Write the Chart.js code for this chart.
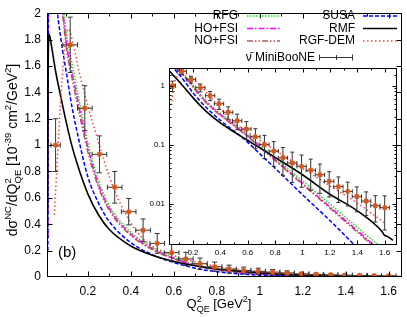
<!DOCTYPE html>
<html>
<head>
<meta charset="utf-8">
<script src="https://cdn.jsdelivr.net/npm/chart.js@4.4.1/dist/chart.umd.min.js"></script>
<style>
  html, body { margin: 0; padding: 0; background: #fff; }
  #wrap { position: relative; width: 407px; height: 317px; }
  #wrap canvas { position: absolute; left: 0; top: 0; }
</style>
</head>
<body>
<div id="wrap">
  <canvas id="main" width="407" height="317"></canvas>
  <canvas id="inset" width="407" height="317"></canvas>
</div>
<script>
// ---- values ----
// model curves share one Q2 grid (GeV^2); values in 10^-39 cm^2/GeV^2
const modelQ = [0.014, 0.017, 0.02, 0.03, 0.05, 0.075, 0.1, 0.125, 0.15, 0.2, 0.25, 0.3, 0.4, 0.5, 0.6, 0.7, 0.8, 1.0, 1.2, 1.4, 1.6, 1.66];
const rfgVal  = [0.3, 2.6, 3.2, 3.5, 3.1, 2.3, 1.85, 1.63, 1.42, 1.02, 0.73, 0.54, 0.34, 0.225, 0.15, 0.095, 0.060, 0.0245, 0.0099, 0.0040, 0.0016, 0.0012];
const hoVal   = [0.3, 2.5, 3.1, 3.4, 3.0, 2.2, 1.78, 1.56, 1.36, 0.98, 0.70, 0.52, 0.325, 0.215, 0.142, 0.089, 0.056, 0.0222, 0.0088, 0.0035, 0.0014, 0.0011];
const noVal   = [0.3, 2.4, 3.0, 3.3, 2.9, 2.15, 1.74, 1.52, 1.32, 0.95, 0.68, 0.505, 0.315, 0.208, 0.137, 0.086, 0.054, 0.0213, 0.0084, 0.0033, 0.0013, 0.0010];
const susaVal = [0.2, 2.4, 2.8, 2.7, 2.15, 1.8, 1.55, 1.3, 1.1, 0.76, 0.56, 0.42, 0.26, 0.17, 0.11, 0.066, 0.040, 0.0142, 0.0052, 0.0018, 0.00065, 0.0005];

const rmfQ   = [0.012, 0.015, 0.018, 0.02, 0.03, 0.05, 0.075, 0.1, 0.125, 0.15, 0.2, 0.25, 0.3, 0.4, 0.5, 0.6, 0.7, 0.8, 1.0, 1.2, 1.4, 1.58, 1.6, 1.62, 1.66];
const rmfVal = [0.5, 1.5, 1.82, 1.84, 1.76, 1.56, 1.36, 1.17, 1.0, 0.86, 0.63, 0.47, 0.36, 0.235, 0.165, 0.118, 0.085, 0.061, 0.031, 0.0145, 0.0076, 0.0034, 0.0029, 0.0028, 0.0024];

const rgfQ   = [0.044, 0.055, 0.065, 0.08, 0.095, 0.11, 0.13, 0.16, 0.2, 0.25, 0.3, 0.35, 0.4, 0.45, 0.5, 0.6, 0.7, 0.8, 1.0, 1.2, 1.4, 1.6];
const rgfVal = [0.47, 0.8, 1.1, 1.5, 1.78, 1.88, 1.78, 1.55, 1.3, 1.02, 0.76, 0.56, 0.41, 0.30, 0.235, 0.163, 0.115, 0.081, 0.040, 0.020, 0.0103, 0.0047];

// MiniBooNE antineutrino points
const dataQ    = [0.05, 0.118, 0.186, 0.254, 0.325, 0.39, 0.457, 0.523, 0.59, 0.656, 0.722, 0.79, 0.857, 0.925, 0.993, 1.06, 1.127, 1.195, 1.262, 1.33, 1.397, 1.465, 1.532, 1.6];
const dataVal  = [1.0, 1.76, 1.28, 0.93, 0.68, 0.495, 0.355, 0.255, 0.185, 0.137, 0.101, 0.078, 0.060, 0.049, 0.043, 0.037, 0.031, 0.024, 0.0195, 0.0162, 0.0133, 0.0111, 0.0093, 0.0086];
const dataErr  = [0.2, 0.21, 0.17, 0.14, 0.12, 0.10, 0.085, 0.075, 0.062, 0.05, 0.043, 0.035, 0.030, 0.026, 0.024, 0.020, 0.016, 0.011, 0.009, 0.007, 0.006, 0.0048, 0.0044, 0.005];
const dataQErr = [0.022, 0.034, 0.034, 0.034, 0.034, 0.034, 0.034, 0.034, 0.034, 0.034, 0.034, 0.034, 0.034, 0.034, 0.034, 0.034, 0.034, 0.034, 0.034, 0.034, 0.034, 0.034, 0.034, 0.034];

const FONT = "'Liberation Sans', Arial, sans-serif";
Chart.defaults.font.family = FONT;
Chart.defaults.color = '#000';

// line styles per model (legend uses the same)
const styles = {
  RFG:       { color: '#22dd22', dash: [1.5, 1.5] },
  'HO+FSI':  { color: '#ff00ff', dash: [6, 2, 1.5, 2] },
  'NO+FSI':  { color: '#b05858', dash: [6, 2, 1.5, 2, 1.5, 2] },
  SUSA:      { color: '#0000ff', dash: [4, 2] },
  RMF:       { color: '#000000', dash: [] },
  'RGF-DEM': { color: '#ff4444', dash: [1.5, 2.5] }
};

const pts = (qs, vs) => qs.map((q, i) => ({ x: q, y: vs[i] }));

function curve(label, qs, vs, order) {
  const s = styles[label];
  return {
    label, order,
    data: pts(qs, vs),
    borderColor: s.color,
    borderDash: s.dash,
    borderWidth: label === 'RMF' ? 1.6 : 1.5,
    pointRadius: 0,
    fill: false,
    cubicInterpolationMode: 'monotone'
  };
}

function makeDatasets() {
  return [
    {
      label: 'MiniBooNE', order: 0,
      data: pts(dataQ, dataVal),
      showLine: false,
      pointStyle: 'star',
      pointRadius: 2.8,
      borderColor: '#d4561c',
      backgroundColor: '#d4561c',
      pointBorderWidth: 1.4
    },
    curve('RGF-DEM', rgfQ, rgfVal, 1),
    curve('RMF', rmfQ, rmfVal, 2),
    curve('SUSA', modelQ, susaVal, 3),
    curve('NO+FSI', modelQ, noVal, 4),
    curve('HO+FSI', modelQ, hoVal, 5),
    curve('RFG', modelQ, rfgVal, 6)
  ];
}

// error bars, drawn just before the data markers (above the curves)
const errorBars = {
  id: 'errorBars',
  beforeDatasetDraw(chart, args) {
    if (args.index !== 0) return;
    const { ctx, chartArea: a, scales: { x, y } } = chart;
    const cap = chart.canvas.id === 'inset' ? 2 : 2.5;
    ctx.save();
    ctx.beginPath();
    ctx.rect(a.left, a.top, a.right - a.left, a.bottom - a.top);
    ctx.clip();
    ctx.strokeStyle = '#333';
    ctx.lineWidth = 1;
    dataQ.forEach((q, i) => {
      const px = x.getPixelForValue(q), py = y.getPixelForValue(dataVal[i]);
      const x0 = x.getPixelForValue(q - dataQErr[i]), x1 = x.getPixelForValue(q + dataQErr[i]);
      const y0 = y.getPixelForValue(dataVal[i] - dataErr[i]), y1 = y.getPixelForValue(dataVal[i] + dataErr[i]);
      ctx.beginPath();
      ctx.moveTo(x0, py); ctx.lineTo(x1, py);
      ctx.moveTo(x0, py - cap); ctx.lineTo(x0, py + cap);
      ctx.moveTo(x1, py - cap); ctx.lineTo(x1, py + cap);
      ctx.moveTo(px, y0); ctx.lineTo(px, y1);
      ctx.moveTo(px - cap, y0); ctx.lineTo(px + cap, y0);
      ctx.moveTo(px - cap, y1); ctx.lineTo(px + cap, y1);
      ctx.stroke();
    });
    ctx.restore();
  }
};

// gnuplot style box with inward ticks on all four sides
const frameTicks = {
  id: 'frameTicks',
  afterDraw(chart, args, opts) {
    const { ctx, chartArea: a, scales: { x, y } } = chart;
    const L = Math.round(a.left) + 0.5, R = Math.round(a.right) - 0.5;
    const T = Math.round(a.top) + 0.5, B = Math.round(a.bottom) - 0.5;
    ctx.save();
    ctx.strokeStyle = '#000';
    ctx.lineWidth = 1;
    ctx.strokeRect(L, T, R - L, B - T);
    ctx.beginPath();
    const xv = x.ticks.map(t => t.value);
    const xmarks = xv.map(v => [v, opts.major]);
    const step = xv[1] - xv[0];
    [xv[0] - step / 2, ...xv.map(v => v + step / 2)].forEach(v => {
      if (v > x.min && v < x.max) xmarks.push([v, opts.minor]);
    });
    xmarks.forEach(([v, len]) => {
      const p = Math.round(x.getPixelForValue(v)) + 0.5;
      ctx.moveTo(p, B); ctx.lineTo(p, B - len);
      ctx.moveTo(p, T); ctx.lineTo(p, T + len);
    });
    y.ticks.forEach(t => {
      let len = opts.major;
      if (opts.log) {
        const e = Math.log10(t.value);
        if (Math.abs(e - Math.round(e)) > 1e-6) len = opts.minor;
      }
      const p = Math.round(y.getPixelForValue(t.value)) + 0.5;
      if (p < T - 0.1 || p > B + 0.1) return;
      ctx.moveTo(L, p); ctx.lineTo(L + len, p);
      ctx.moveTo(R, p); ctx.lineTo(R - len, p);
    });
    ctx.stroke();
    ctx.restore();
  }
};

// text with super/subscripts: parts are [text, size, dy] or {sup, sub}
function richWidth(ctx, parts, small) {
  let w = 0;
  parts.forEach(p => {
    if (Array.isArray(p)) {
      ctx.font = p[1] + 'px ' + FONT;
      w += ctx.measureText(p[0]).width;
    } else {
      ctx.font = small + 'px ' + FONT;
      w += Math.max(ctx.measureText(p.sup).width, ctx.measureText(p.sub).width);
    }
  });
  return w;
}
function richDraw(ctx, parts, x0, y0, small) {
  let x = x0;
  parts.forEach(p => {
    if (Array.isArray(p)) {
      ctx.font = p[1] + 'px ' + FONT;
      ctx.fillText(p[0], x, y0 + p[2]);
      x += ctx.measureText(p[0]).width;
    } else {
      ctx.font = small + 'px ' + FONT;
      ctx.fillText(p.sup, x, y0 - 6.5);
      ctx.fillText(p.sub, x, y0 + 4);
      x += Math.max(ctx.measureText(p.sup).width, ctx.measureText(p.sub).width);
    }
  });
}

const labelsPlugin = {
  id: 'labels',
  afterDraw(chart) {
    const { ctx } = chart;
    ctx.save();
    ctx.fillStyle = '#000';
    ctx.textBaseline = 'alphabetic';
    ctx.textAlign = 'left';

    // y title (rotated)
    const yParts = [['dσ', 14, 0], ['NC', 9.5, -6.5], ['/dQ', 14, 0], { sup: '2', sub: 'QE' },
      [' [10', 14, 0], ['-39', 9.5, -6.5], [' cm', 14, 0], ['2', 9.5, -6.5], ['/GeV', 14, 0], ['2', 9.5, -6.5], [']', 14, 0]];
    const yw = richWidth(ctx, yParts, 9.5);
    ctx.save();
    ctx.translate(17, 150);
    ctx.rotate(-Math.PI / 2);
    richDraw(ctx, yParts, -yw / 2, 0, 9.5);
    ctx.restore();

    // x title
    const xParts = [['Q', 13, 0], { sup: '2', sub: 'QE' }, [' [GeV', 13, 0], ['2', 9, -6], [']', 13, 0]];
    const xw = richWidth(ctx, xParts, 9);
    richDraw(ctx, xParts, 219 - xw / 2, 308, 9);

    // panel tag
    ctx.font = '15px ' + FONT;
    ctx.fillText('(b)', 58, 257);

    // key
    ctx.font = '12px ' + FONT;
    ctx.textBaseline = 'middle';
    ctx.textAlign = 'right';
    const rows = [16, 28.5, 41];
    const left = ['RFG', 'HO+FSI', 'NO+FSI'];
    const right = ['SUSA', 'RMF', 'RGF-DEM'];
    const sample = (name, x0, x1, yy) => {
      const s = styles[name];
      ctx.save();
      ctx.strokeStyle = s.color;
      ctx.setLineDash(s.dash);
      ctx.lineWidth = 1.5;
      ctx.beginPath(); ctx.moveTo(x0, yy); ctx.lineTo(x1, yy); ctx.stroke();
      ctx.restore();
    };
    rows.forEach((yy, i) => {
      ctx.fillText(left[i], 238, yy);
      sample(left[i], 247, 280, yy);
      ctx.fillText(right[i], 355, yy);
      sample(right[i], 363, 397, yy);
    });
    ctx.fillText('\u03bd\u0304 MiniBooNE', 315, 57.5);
    ctx.strokeStyle = '#333';
    ctx.lineWidth = 1;
    ctx.beginPath();
    ctx.moveTo(319, 57.5); ctx.lineTo(353, 57.5);
    ctx.moveTo(319.5, 54.5); ctx.lineTo(319.5, 60.5);
    ctx.moveTo(352.5, 54.5); ctx.lineTo(352.5, 60.5);
    ctx.moveTo(336.5, 55); ctx.lineTo(336.5, 60);
    ctx.stroke();
    ctx.restore();
  }
};

const insetBackground = {
  id: 'insetBackground',
  beforeDraw(chart) {
    const { ctx, chartArea: a } = chart;
    ctx.save();
    ctx.fillStyle = '#fff';
    ctx.fillRect(a.left, a.top, a.right - a.left, a.bottom - a.top);
    ctx.restore();
  }
};

const numLabel = v => String(Number(v.toFixed(2)));
const noGrid = { display: false, drawTicks: false };

// ---- main panel ----
new Chart(document.getElementById('main'), {
  type: 'line',
  data: { datasets: makeDatasets() },
  options: {
    responsive: false,
    animation: false,
    devicePixelRatio: 1,
    layout: { padding: { left: 0, right: 4, top: 5, bottom: 0 } },
    plugins: { legend: { display: false }, tooltip: { enabled: false }, frameTicks: { major: 5, minor: 3 } },
    scales: {
      x: {
        type: 'linear', min: 0.01, max: 1.66,
        grid: noGrid, border: { display: false },
        ticks: { stepSize: 0.2, includeBounds: false, autoSkip: false, maxRotation: 0,
                 font: { size: 12 }, padding: 7, callback: numLabel },
        afterFit: s => { s.height = 40; }
      },
      y: {
        type: 'linear', min: 0, max: 2,
        grid: noGrid, border: { display: false },
        ticks: { stepSize: 0.2, autoSkip: false, font: { size: 12 }, padding: 6, callback: numLabel },
        afterFit: s => { s.width = 47; }
      }
    }
  },
  plugins: [errorBars, frameTicks, labelsPlugin]
});

// ---- log-scale inset ----
new Chart(document.getElementById('inset'), {
  type: 'line',
  data: { datasets: makeDatasets() },
  options: {
    responsive: false,
    animation: false,
    devicePixelRatio: 1,
    layout: { padding: { left: 0, right: 10, top: 68, bottom: 0 } },
    plugins: { legend: { display: false }, tooltip: { enabled: false }, frameTicks: { major: 4, minor: 2, log: true } },
    scales: {
      x: {
        type: 'linear', min: 0.025, max: 1.69,
        grid: noGrid, border: { display: false },
        ticks: { stepSize: 0.2, includeBounds: false, autoSkip: false, maxRotation: 0,
                 font: { size: 8 }, padding: 3, callback: numLabel },
        afterFit: s => { s.height = 72; }
      },
      y: {
        type: 'logarithmic', min: 0.002, max: 2,
        grid: noGrid, border: { display: false },
        ticks: {
          autoSkip: false, font: { size: 8 }, padding: 4,
          callback: v => {
            const e = Math.round(Math.log10(v));
            return Math.abs(v / Math.pow(10, e) - 1) < 1e-6 ? String(Number(Math.pow(10, e).toPrecision(1))) : '';
          }
        },
        afterFit: s => { s.width = 169; }
      }
    }
  },
  plugins: [insetBackground, errorBars, frameTicks]
});
</script>
</body>
</html>
